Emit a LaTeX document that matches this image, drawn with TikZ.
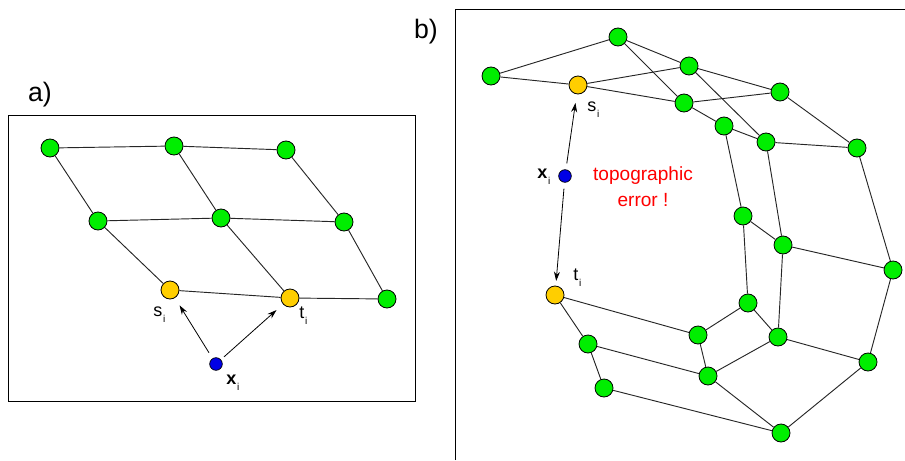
\documentclass[tikz,border=0pt]{standalone}
\usepackage{fontspec}
\setmainfont{Liberation Sans}
\usetikzlibrary{arrows.meta}
\definecolor{ngreen}{RGB}{0,238,0}
\definecolor{nyellow}{RGB}{255,206,0}
\definecolor{nblue}{RGB}{0,0,230}
\definecolor{ered}{RGB}{255,0,0}
\tikzset{
  gnode/.style={circle,draw=black,line width=0.6pt,fill=ngreen,minimum size=13.5pt,inner sep=0pt},
  ynode/.style={circle,draw=black,line width=0.6pt,fill=nyellow,minimum size=13.5pt,inner sep=0pt},
  bnode/.style={circle,draw=black,line width=0.5pt,fill=nblue,minimum size=9.5pt,inner sep=0pt},
  edge/.style={line width=0.7pt,black!85},
  arr/.style={line width=0.6pt,-{Stealth[length=7pt,width=4.5pt]}},
  lbl/.style={inner sep=0pt,anchor=base west,font=\fontsize{13.5}{15}\selectfont},
  xlbl/.style={inner sep=0pt,anchor=base west,font=\fontsize{13.5}{15}\selectfont\bfseries},
  panel/.style={inner sep=0pt,font=\fontsize{20}{22}\selectfont},
  frame/.style={line width=0.75pt,black}
}
\newcommand{\sub}[1]{\hspace{0.6pt}\raisebox{-4.5pt}{\fontsize{7.5}{8}\selectfont\mdseries #1}}
\begin{document}
\begin{tikzpicture}[x=0.75pt,y=-0.75pt]
\useasboundingbox (0,0) rectangle (905,460);
% ---------- panel a ----------
\node[panel] (la) at (40,95) {a)};
\draw[frame] (8,115) rectangle (415,401);
\node[gnode] (a1) at (50,148) {};
\node[gnode] (a2) at (174,146) {};
\node[gnode] (a3) at (286,150) {};
\node[gnode] (a4) at (98,221) {};
\node[gnode] (a5) at (221,218) {};
\node[gnode] (a6) at (344,222) {};
\node[ynode] (as) at (170,290) {};
\node[ynode] (at) at (290,298) {};
\node[gnode] (a9) at (387,299) {};
\node[bnode] (ax) at (216,364) {};
\foreach \u/\v in {a1/a2,a2/a3,a1/a4,a2/a5,a3/a6,a4/a5,a5/a6,a4/as,a5/at,a6/a9,as/at,at/a9}
  \draw[edge] (\u) -- (\v);
\draw[arr,shorten <=5pt,shorten >=6.5pt] (ax) -- (as);
\draw[arr,shorten <=3pt,shorten >=6.5pt] (ax) -- (at);
\node[lbl] (las) at (153,316) {s\sub{i}};
\node[lbl] (lat) at (299,318) {t\sub{i}};
\node[xlbl] (lax) at (226,384) {x\sub{i}};
% ---------- panel b ----------
\node[panel] (lb) at (426,32) {b)};
\draw[frame] (455,460) -- (455,10) -- (905,10);
\node[gnode] (b1) at (491,76) {};
\node[gnode] (b2) at (618,37) {};
\node[ynode] (bs) at (578,85) {};
\node[gnode] (b3) at (689,66) {};
\node[gnode] (b4) at (684,103) {};
\node[gnode] (b5) at (780,92) {};
\node[gnode] (b6) at (724,126) {};
\node[gnode] (b7) at (766,142) {};
\node[gnode] (b8) at (857,148) {};
\node[bnode] (bx) at (565,176) {};
\node[gnode] (b9) at (743,216) {};
\node[gnode] (b10) at (783,245) {};
\node[gnode] (b11) at (893,270) {};
\node[ynode] (bt) at (555,295) {};
\node[gnode] (b12) at (748,303) {};
\node[gnode] (b13) at (698,335) {};
\node[gnode] (b14) at (778,337) {};
\node[gnode] (b15) at (588,344) {};
\node[gnode] (b16) at (708,376) {};
\node[gnode] (b17) at (868,362) {};
\node[gnode] (b18) at (604,388) {};
\node[gnode] (b19) at (781,433) {};
\foreach \u/\v in {b1/b2,b1/bs,bs/b3,bs/b4,b2/b3,b2/b4,b3/b5,b3/b7,b4/b5,b4/b6,b5/b8,b6/b7,b7/b8,b6/b9,b7/b10,b8/b11,b9/b10,b9/b12,b10/b11,b10/b14,b11/b17,b12/b13,b12/b14,bt/b13,bt/b15,b15/b16,b15/b18,b13/b16,b16/b14,b14/b17,b16/b19,b17/b19,b18/b19}
  \draw[edge] (\u) -- (\v);
\draw[arr,shorten <=4.5pt,shorten >=6.5pt] (bx) -- (bs);
\draw[arr,shorten <=4.5pt,shorten >=3.5pt] (bx) -- (bt);
\node[lbl] (lbs) at (587,111) {s\sub{i}};
\node[lbl] (lbt) at (573,280) {t\sub{i}};
\node[xlbl] (lbx) at (537,178) {x\sub{i}};
\node[inner sep=0pt,text=ered,align=center,font=\fontsize{14.3}{19.5}\selectfont] (err) at (643,187) {topographic\\error !};
\end{tikzpicture}
\end{document}
